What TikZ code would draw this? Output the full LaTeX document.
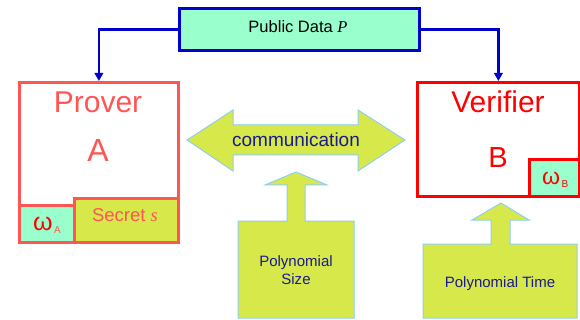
\documentclass[tikz,border=0pt]{standalone}
\usepackage{fontspec}
\setmainfont{Liberation Sans}
\newfontfamily\timesfont{Liberation Serif}
\usetikzlibrary{arrows.meta}
\definecolor{mint}{HTML}{99FFCC}
\definecolor{lime}{HTML}{D7E84B}
\definecolor{wire}{HTML}{0000CC}
\definecolor{salmon}{HTML}{FF5555}
\definecolor{navy}{HTML}{1A1A8C}
\definecolor{sky}{HTML}{8ECFF0}
\newcommand{\fs}[1]{\fontsize{#1}{#1}\selectfont}
\tikzset{
  boxbase/.style={rectangle, inner sep=0pt, anchor=north west},
  pubbox/.style={boxbase, draw=wire, fill=mint, line width=3pt},
  proverbox/.style={boxbase, draw=salmon, line width=2.8pt},
  verifierbox/.style={boxbase, draw=red, line width=2.8pt},
  conn/.style={draw=wire, line width=2.5pt, -{Triangle[length=8pt,width=8.5pt]}},
  bigarrow/.style={fill=lime, draw=sky, line width=1pt, line join=miter},
  txt/.style={inner sep=0pt, anchor=base},
  omtxt/.style={inner sep=0pt, anchor=base west},
}
\begin{document}
\begin{tikzpicture}[x=1pt,y=-1pt]
\useasboundingbox (0,0) rectangle (580,320);

% public data box
\node[pubbox, minimum width=240pt, minimum height=42pt] (pub) at (178,7) {};
\node[txt] (pubtxt) at (298,33) {\fs{16.5}Public Data {\timesfont\itshape P}};

% prover
\node[proverbox, minimum width=159pt, minimum height=160pt] (prover) at (18,81) {};
\node[proverbox, fill=mint, minimum width=55pt, minimum height=37pt] (omA) at (18,204) {};
\node[proverbox, fill=lime, minimum width=104pt, minimum height=44pt] (secret) at (73,197) {};
\node[txt, text=salmon] (provertxt) at (98,113) {\fs{30}Prover};
\node[txt, text=salmon] (Atxt) at (98,162) {\fs{32}A};
\node[txt, text=salmon] (secrettxt) at (125,222) {\fs{18.5}Secret {\timesfont\itshape s}};
\node[omtxt] (omAtxt) at (33,230) {{\color{red}\fs{25}ω}\hspace{1.5pt}{\color{salmon}\fs{10}\raisebox{-3pt}{A}}};

% verifier
\node[verifierbox, minimum width=162pt, minimum height=114pt] (verifier) at (416,81) {};
\node[verifierbox, fill=mint, minimum width=50pt, minimum height=37pt] (omB) at (528,158) {};
\node[txt, text=red] (verifiertxt) at (498,113) {\fs{30}Verifier};
\node[txt, text=red] (Btxt) at (498,168) {\fs{29}B};
\node[omtxt] (omBtxt) at (542,185) {{\color{red}\fs{23}ω}\hspace{1.5pt}{\color{red}\fs{10}\raisebox{-3pt}{B}}};

% public data feeds both parties
\draw[conn] (pub.west) -| (prover.north);
\draw[conn] (pub.east) -| (verifier.north);

% communication double arrow
\draw[bigarrow] (187,140) -- (233,110) -- (233,125) -- (358,125) -- (358,110)
  -- (405,140) -- (358,171) -- (358,155) -- (233,155) -- (233,171) -- cycle;
\node[txt, text=navy] (commtxt) at (296,147) {\fs{19}communication};

% polynomial size support
\draw[bigarrow] (238,221) -- (287,221) -- (287,185) -- (265,185) -- (296,172)
  -- (327,185) -- (305,185) -- (305,221) -- (354,221) -- (354,318) -- (238,318) -- cycle;
\node[txt, text=navy] (sizetxt) at (296,266) {\fs{15}Polynomial};
\node[txt, text=navy] (sizetxt2) at (296,284) {\fs{15}Size};

% polynomial time support
\draw[bigarrow] (423,244) -- (491,244) -- (491,220) -- (472,220) -- (501,203)
  -- (529,220) -- (510,220) -- (510,244) -- (577,244) -- (577,318) -- (423,318) -- cycle;
\node[txt, text=navy] (timetxt) at (500,287) {\fs{15}Polynomial Time};
\end{tikzpicture}
\end{document}
